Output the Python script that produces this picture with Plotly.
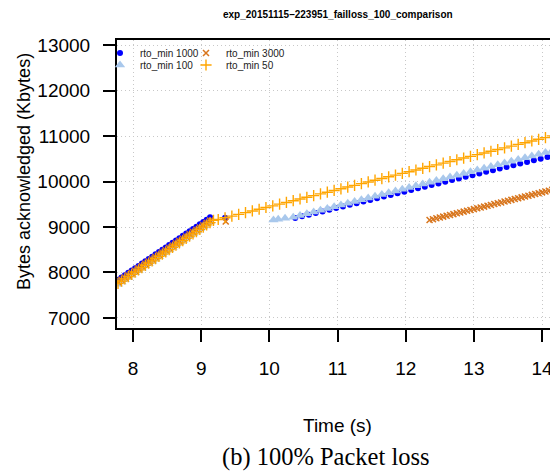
import plotly.graph_objects as go

# ---- data ----
# rto_min 1000
x_1000 = [7.78, 7.83, 7.88, 7.93, 7.98, 8.03, 8.08, 8.13, 8.18, 8.23, 8.28, 8.33, 8.38, 8.43,
          8.48, 8.53, 8.58, 8.63, 8.68, 8.73, 8.78, 8.83, 8.88, 8.93, 8.98, 9.03, 9.08, 9.13,
          9.35,
          10.38, 10.48, 10.58, 10.68, 10.78, 10.88, 10.98, 11.08, 11.18, 11.28, 11.38, 11.48,
          11.58, 11.68, 11.78, 11.88, 11.98, 12.08, 12.18, 12.28, 12.38, 12.48, 12.58, 12.68,
          12.78, 12.88, 12.98, 13.08, 13.18, 13.28, 13.38, 13.48, 13.58, 13.68, 13.78, 13.88,
          13.98, 14.08, 14.18]
y_1000 = [7840, 7891, 7942, 7992, 8043, 8094, 8145, 8196, 8246, 8297, 8348, 8399, 8450, 8500,
          8551, 8602, 8653, 8704, 8754, 8805, 8856, 8907, 8958, 9008, 9059, 9110, 9161, 9212,
          9205,
          9198, 9234, 9270, 9307, 9343, 9379, 9415, 9451, 9488, 9524, 9560, 9596,
          9632, 9669, 9705, 9741, 9777, 9813, 9850, 9886, 9922, 9958, 9994, 10031,
          10067, 10103, 10139, 10175, 10212, 10248, 10284, 10320, 10356, 10393, 10429, 10465,
          10501, 10537, 10574]

# rto_min 100
x_100 = [7.78, 7.83, 7.88, 7.93, 7.98, 8.03, 8.08, 8.13, 8.18, 8.23, 8.28, 8.33, 8.38, 8.43,
         8.48, 8.53, 8.58, 8.63, 8.68, 8.73, 8.78, 8.83, 8.88, 8.93, 8.98, 9.03, 9.08, 9.13,
         10.06, 10.13, 10.23,
         10.35, 10.45, 10.55, 10.65, 10.75, 10.85, 10.95, 11.05, 11.15, 11.25, 11.35, 11.45,
         11.55, 11.65, 11.75, 11.85, 11.95, 12.05, 12.15, 12.25, 12.35, 12.45, 12.55, 12.65,
         12.75, 12.85, 12.95, 13.05, 13.15, 13.25, 13.35, 13.45, 13.55, 13.65, 13.75, 13.85,
         13.95, 14.05, 14.15]
y_100 = [7740, 7791, 7842, 7892, 7943, 7994, 8045, 8096, 8146, 8197, 8248, 8299, 8350, 8400,
         8451, 8502, 8553, 8604, 8654, 8705, 8756, 8807, 8858, 8908, 8959, 9010, 9061, 9112,
         9154, 9169, 9190,
         9215, 9254, 9292, 9331, 9369, 9408, 9446, 9485, 9523, 9562, 9600, 9639,
         9677, 9716, 9754, 9793, 9831, 9870, 9908, 9947, 9985, 10024, 10062, 10101,
         10139, 10178, 10216, 10255, 10293, 10332, 10370, 10409, 10447, 10486, 10524, 10563,
         10601, 10640, 10678]

# rto_min 3000
x_3000 = [7.78, 7.83, 7.88, 7.93, 7.98, 8.03, 8.08, 8.13, 8.18, 8.23, 8.28, 8.33, 8.38, 8.43,
          8.48, 8.53, 8.58, 8.63, 8.68, 8.73, 8.78, 8.83, 8.88, 8.93, 8.98, 9.03, 9.08, 9.13,
          9.36,
          12.35, 12.40, 12.45, 12.50, 12.55, 12.60, 12.65, 12.70, 12.75, 12.80, 12.85, 12.90,
          12.95, 13.00, 13.05, 13.10, 13.15, 13.20, 13.25, 13.30, 13.35, 13.40, 13.45, 13.50,
          13.55, 13.60, 13.65, 13.70, 13.75, 13.80, 13.85, 13.90, 13.95, 14.00, 14.05, 14.10,
          14.15, 14.20]
y_3000 = [7790, 7840, 7890, 7940, 7990, 8040, 8090, 8140, 8190, 8240, 8290, 8340, 8390, 8440,
          8490, 8540, 8590, 8640, 8690, 8740, 8790, 8840, 8890, 8940, 8990, 9040, 9090, 9140,
          9120,
          9154, 9172, 9191, 9209, 9228, 9246, 9264, 9283, 9301, 9320, 9338, 9356,
          9375, 9393, 9412, 9430, 9448, 9467, 9485, 9504, 9522, 9540, 9559, 9577,
          9596, 9614, 9632, 9651, 9669, 9688, 9706, 9724, 9743, 9761, 9780, 9798,
          9816, 9835]

# rto_min 50
x_50 = [7.78, 7.83, 7.88, 7.93, 7.98, 8.03, 8.08, 8.13, 8.18, 8.23, 8.28, 8.33, 8.38, 8.43,
        8.48, 8.53, 8.58, 8.63, 8.68, 8.73, 8.78, 8.83, 8.88, 8.93, 8.98, 9.03, 9.08, 9.13, 9.18,
        9.25, 9.35, 9.45, 9.55, 9.65, 9.75, 9.85, 9.95, 10.05, 10.15, 10.25, 10.35, 10.45,
        10.55, 10.65, 10.75, 10.85, 10.95, 11.05, 11.15, 11.25, 11.35, 11.45, 11.55, 11.65,
        11.75, 11.85, 11.95, 12.05, 12.15, 12.25, 12.35, 12.45, 12.55, 12.65, 12.75, 12.85,
        12.95, 13.05, 13.15, 13.25, 13.35, 13.45, 13.55, 13.65, 13.75, 13.85, 13.95, 14.05,
        14.15]
y_50 = [7760, 7810, 7859, 7909, 7958, 8008, 8057, 8107, 8156, 8206, 8255, 8305, 8354, 8404,
        8453, 8503, 8552, 8602, 8651, 8701, 8750, 8800, 8849, 8899, 8948, 8998, 9047, 9097, 9146,
        9165, 9203, 9240, 9278, 9315, 9353, 9390, 9428, 9465, 9503, 9540, 9578, 9615,
        9653, 9690, 9728, 9765, 9803, 9840, 9878, 9915, 9953, 9990, 10028, 10065,
        10103, 10140, 10178, 10215, 10253, 10290, 10328, 10365, 10403, 10440, 10478, 10515,
        10553, 10590, 10628, 10665, 10703, 10740, 10778, 10815, 10853, 10890, 10928, 10965,
        11003]

x_ticks = [8, 9, 10, 11, 12, 13, 14]
y_ticks = [7000, 8000, 9000, 10000, 11000, 12000, 13000]

title_text = "exp_20151115\u2013223951_failloss_100_comparison"
x_title = "Time (s)"
y_title = "Bytes acknowledged (Kbytes)"
caption = "(b) 100% Packet loss"

# ---- figure ----
fig = go.Figure()

fig.add_trace(go.Scatter(
    x=x_1000, y=y_1000, mode="markers", name="rto_min 1000", legend="legend",
    marker=dict(symbol="circle", size=6, color="#0000FF", line=dict(width=0))))
fig.add_trace(go.Scatter(
    x=x_100, y=y_100, mode="markers", name="rto_min 100", legend="legend3",
    marker=dict(symbol="triangle-up", size=9, color="#A9C8EC", line=dict(width=0))))
fig.add_trace(go.Scatter(
    x=x_3000, y=y_3000, mode="markers", name="rto_min 3000", legend="legend2",
    marker=dict(symbol="x-thin", size=6, color="#D8761E", line=dict(width=1.5, color="#D8761E"))))
fig.add_trace(go.Scatter(
    x=x_50, y=y_50, mode="markers", name="rto_min 50", legend="legend4",
    marker=dict(symbol="cross-thin", size=8, color="#FFA500", line=dict(width=1.4, color="#FFA500"))))

# page (window) coordinates; the page body has an 8px margin
OFF = 8
W, H = 558 - 8, 473 - 8
PL, PR, PT, PB = 117, 555, 40, 328  # plot box in window pixels
L, T = PL - OFF, PT - OFF
R = W - (PR - OFF)
B = H - (PB - OFF)
PW, PH = W - L - R, H - T - B


def cx(p):
    return (p - OFF) / W


def cy(p):
    return 1 - (p - OFF) / H


def px(p):
    return (p - OFF - L) / PW


def py(p):
    return 1 - (p - OFF - T) / PH


leg_common = dict(bgcolor="rgba(0,0,0,0)", borderwidth=0,
                  font=dict(family="Liberation Sans", size=10, color="#222"),
                  xref="container", yref="container",
                  xanchor="left", yanchor="middle", itemwidth=30, tracegroupgap=0)

fig.update_layout(
    width=W, height=H,
    showlegend=True,
    margin=dict(l=L, r=R, t=T, b=B, autoexpand=False),
    paper_bgcolor="white", plot_bgcolor="white",
    font=dict(family="Liberation Sans", size=19, color="black"),
    legend=dict(x=cx(100), y=cy(53), **leg_common),
    legend2=dict(x=cx(186), y=cy(53), **leg_common),
    legend3=dict(x=cx(100), y=cy(65), **leg_common),
    legend4=dict(x=cx(186), y=cy(65), **leg_common),
    xaxis=dict(range=[7.765, 14.19], tickvals=x_ticks, ticktext=[str(v) for v in x_ticks],
               showgrid=True, gridcolor="#c8c8c8", griddash="1px,3px", gridwidth=1,
               showline=True, mirror=True, linecolor="black", linewidth=2,
               ticks="outside", ticklen=12, tickwidth=1.5, tickcolor="black",
               ticklabelstandoff=10, zeroline=False, automargin=False,
               tickfont=dict(family="Liberation Sans", size=19)),
    yaxis=dict(range=[6780, 13110], tickvals=y_ticks, ticktext=[str(v) for v in y_ticks],
               showgrid=True, gridcolor="#c8c8c8", griddash="1px,3px", gridwidth=1,
               showline=True, mirror=True, linecolor="black", linewidth=2,
               ticks="outside", ticklen=12, tickwidth=1.5, tickcolor="black",
               ticklabelstandoff=9, zeroline=False, automargin=False,
               tickfont=dict(family="Liberation Sans", size=19)),
    annotations=[
        dict(text="<b>" + title_text + "</b>", x=px(337.5), y=py(15), xref="paper", yref="paper",
             showarrow=False, xanchor="center", yanchor="middle",
             font=dict(family="Liberation Sans", size=10, color="black")),
        dict(text=x_title, x=px(337.5), y=py(425), xref="paper", yref="paper",
             showarrow=False, xanchor="center", yanchor="middle",
             font=dict(family="Liberation Sans", size=19, color="black")),
        dict(text=y_title, x=px(24), y=py(172), xref="paper", yref="paper",
             showarrow=False, xanchor="center", yanchor="middle", textangle=-90,
             font=dict(family="Liberation Sans", size=18, color="black")),
        dict(text=caption, x=px(325.5), y=py(457), xref="paper", yref="paper",
             showarrow=False, xanchor="center", yanchor="middle",
             font=dict(family="Liberation Serif", size=24.5, color="black")),
    ],
)

fig.write_html("out.html")
